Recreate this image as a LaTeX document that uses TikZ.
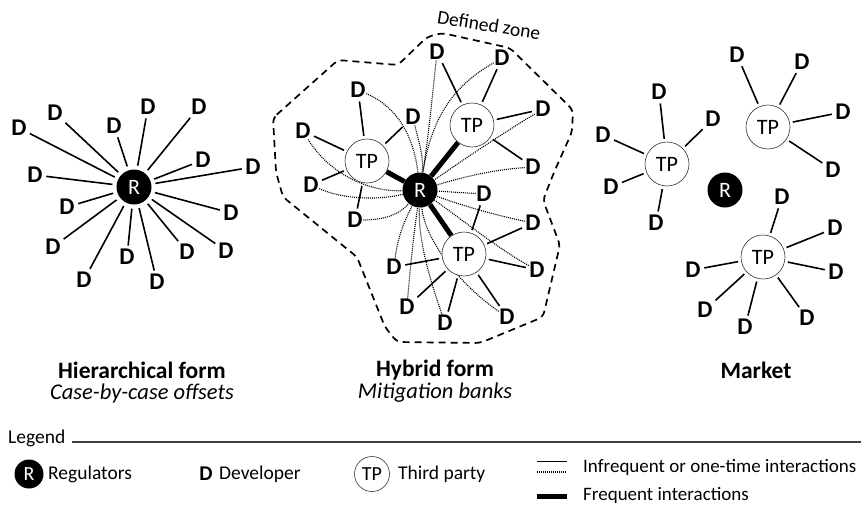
\documentclass[tikz,border=0pt]{standalone}
\usepackage{fontspec}
\setmainfont{Carlito}
\usetikzlibrary{backgrounds}
\begin{document}
\begin{tikzpicture}[x=1pt,y=-1pt,
  dn/.style={font=\bfseries\fontsize{24}{24}\selectfont, inner sep=0.5pt},
  rn/.style={circle, fill=black, minimum size=35pt, inner sep=0pt, text=white, font=\fontsize{22}{22}\selectfont},
  tpn/.style={circle, draw=black!80, line width=0.6pt, fill=white, minimum size=44pt, inner sep=0pt, font=\fontsize{22}{22}\selectfont},
  sl/.style={line width=1.6pt, shorten <=3pt, shorten >=3pt},
  dl/.style={line width=1.1pt, dash pattern=on 1pt off 1pt, black},
  tl/.style={line width=5pt},
  zone/.style={line width=1.7pt, dash pattern=on 7pt off 5pt, rounded corners=5pt},
  ttl/.style={font=\bfseries\fontsize{23.5}{23.5}\selectfont},
  sub/.style={font=\itshape\fontsize{22.5}{22.5}\selectfont},
  lg/.style={font=\fontsize{19.5}{19.5}\selectfont, anchor=west, inner sep=0pt}
]
\useasboundingbox (0,0) rectangle (861,504);

% ---------- Panel 1: hierarchical ----------
\node[rn] (R1) at (134,187) {R};
\foreach \x/\y [count=\i] in {19/128, 55/113, 114/126, 148/107, 199/107, 203/160, 253/167, 35/175, 67/207, 231/213, 53/247, 226/251, 127/257, 187/252, 84/280, 157/282} {
  \node[dn] (a\i) at (\x,\y) {D};
  \draw[sl, shorten >=4pt] (a\i) -- (R1);
}

% ---------- Panel 2: hybrid ----------
\draw[zone] (273,118) -- (338,60) -- (398,65) -- (427,37) -- (442,33) -- (510,48) -- (573,110) -- (572,132) -- (555,170) -- (543,200) -- (560,245) -- (543,317) -- (480,343) -- (397,342) -- (385,327) -- (357,257) -- (283,197) -- (276,172) -- cycle;
\node[rotate=-9, font=\fontsize{19.5}{19.5}\selectfont] (zl) at (489,25) {Defined zone};

\node[rn] (R2) at (420,190) {R};
\node[tpn] (T1) at (367,161) {TP};
\node[tpn] (T2) at (472,125) {TP};
\node[tpn] (T3) at (464,254) {TP};

\node[dn] (h1) at (358,90) {D};
\node[dn] (h2) at (303,131) {D};
\node[dn] (h3) at (413,117) {D};
\node[dn] (h4) at (311,185) {D};
\node[dn] (h5) at (355,220) {D};
\node[dn] (t1) at (437,52) {D};
\node[dn] (t2) at (502,58) {D};
\node[dn] (t3) at (543,109) {D};
\node[dn] (t4) at (533,167) {D};
\node[dn] (b1) at (484,194) {D};
\node[dn] (b2) at (533,223) {D};
\node[dn] (b3) at (537,270) {D};
\node[dn] (b4) at (507,317) {D};
\node[dn] (b5) at (445,323) {D};
\node[dn] (b6) at (407,307) {D};
\node[dn] (b7) at (394,267) {D};

\begin{scope}[on background layer]
\draw[dl] (h1) .. controls (400,108) and (414,140) .. (R2);
\draw[dl] (h3) .. controls (418,140) and (424,155) .. (R2);
\draw[dl] (h2) .. controls (330,175) and (370,192) .. (R2);
\draw[dl] (h4) .. controls (345,200) and (380,200) .. (R2);
\draw[dl] (h5) .. controls (385,220) and (400,214) .. (R2);
\draw[dl] (t1) .. controls (432,100) and (428,140) .. (R2);
\draw[dl] (t2) .. controls (455,85) and (432,115) .. (R2);
\draw[dl] (t3) .. controls (500,135) and (460,162) .. (R2);
\draw[dl] (t4) .. controls (490,170) and (460,178) .. (R2);
\draw[dl] (b1) -- (R2);
\draw[dl] (b2) .. controls (495,215) and (460,205) .. (R2);
\draw[dl] (b3) .. controls (500,250) and (460,218) .. (R2);
\draw[dl] (b4) .. controls (460,285) and (425,240) .. (R2);
\draw[dl] (b5) .. controls (430,280) and (418,240) .. (R2);
\draw[dl] (b6) .. controls (410,270) and (413,240) .. (R2);
\draw[dl] (b7) .. controls (398,235) and (405,220) .. (R2);
\draw[tl] (R2) -- (T1);
\draw[tl] (R2) -- (T2);
\draw[tl] (R2) -- (T3);
\end{scope}

\foreach \d in {h1,h2,h3,h4,h5} \draw[sl] (\d) -- (T1);
\foreach \d in {t1,t2,t3,t4} \draw[sl] (\d) -- (T2);
\foreach \d in {b1,b2,b3,b4,b5,b6,b7} \draw[sl] (\d) -- (T3);

% ---------- Panel 3: market ----------
\node[rn] (R3) at (725,190) {R};
\node[tpn] (MA) at (667,164) {TP};
\node[tpn] (MB) at (768,127) {TP};
\node[tpn] (MC) at (763,257) {TP};
\foreach \x/\y [count=\i] in {659/92, 713/119, 603/135, 611/187, 656/223} {
  \node[dn] (ma\i) at (\x,\y) {D};
  \draw[sl] (ma\i) -- (MA);
}
\foreach \x/\y [count=\i] in {737/55, 802/62, 843/112, 833/170} {
  \node[dn] (mb\i) at (\x,\y) {D};
  \draw[sl] (mb\i) -- (MB);
}
\foreach \x/\y [count=\i] in {782/197, 835/228, 836/272, 807/318, 745/327, 705/310, 693/270} {
  \node[dn] (mc\i) at (\x,\y) {D};
  \draw[sl] (mc\i) -- (MC);
}

% ---------- Titles ----------
\node[ttl] (ti1) at (142,370) {Hierarchical form};
\node[sub] (su1) at (142,393) {Case-by-case offsets};
\node[ttl] (ti2) at (435,370) {Hybrid form};
\node[sub] (su2) at (435,393) {Mitigation banks};
\node[ttl] (ti3) at (756,370) {Market};

% ---------- Legend ----------
\node[lg] (lgt) at (8,438) {Legend};
\coordinate (lgend) at (861,442);
\draw[line width=1.2pt, black!75] ([xshift=6pt]lgt.east |- lgend) -- (lgend);

\node[rn, minimum size=29pt, font=\fontsize{20}{20}\selectfont] (lr) at (29,474) {R};
\node[lg] (lrt) at (48,474) {Regulators};
\node[dn, font=\bfseries\fontsize{21}{21}\selectfont] (ld) at (206,474) {D};
\node[lg] (ldt) at (219,474) {Developer};
\node[tpn, minimum size=35pt, font=\fontsize{20}{20}\selectfont] (ltp) at (372,474) {TP};
\node[lg] (ltt) at (398,474) {Third party};

\coordinate (i1a) at (537,461); \coordinate (i1b) at (567,461);
\coordinate (i2a) at (537,472); \coordinate (i2b) at (567,472);
\coordinate (i3a) at (537,496); \coordinate (i3b) at (567,496);
\draw[line width=1pt] (i1a) -- (i1b);
\draw[dl] (i2a) -- (i2b);
\draw[tl] (i3a) -- (i3b);
\node[lg, font=\fontsize{19}{19}\selectfont] (lin) at (583,467) {Infrequent or one-time interactions};
\node[lg, font=\fontsize{19}{19}\selectfont] (lfr) at (583,495) {Frequent interactions};
\end{tikzpicture}
\end{document}
